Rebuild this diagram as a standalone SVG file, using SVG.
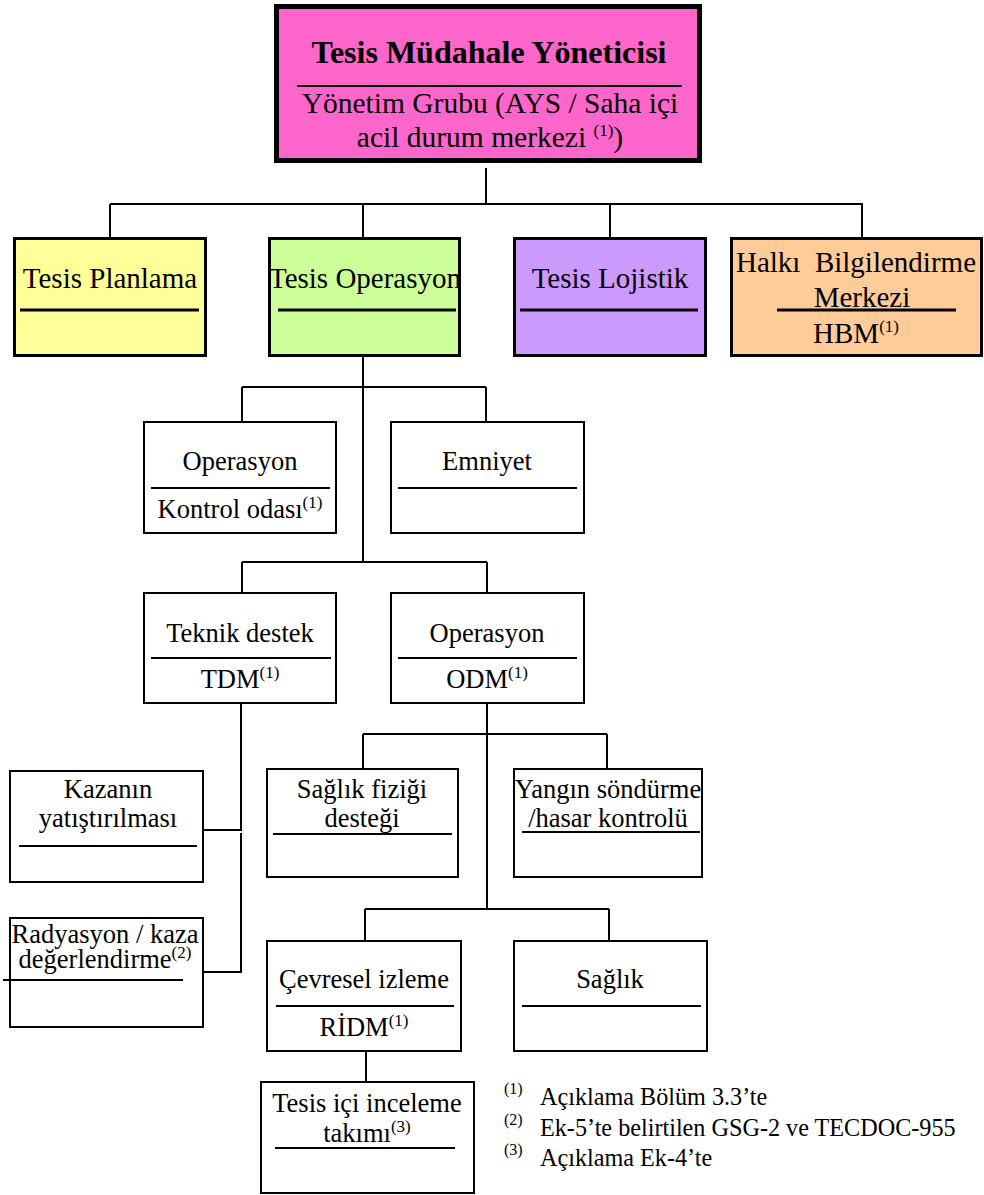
<svg xmlns="http://www.w3.org/2000/svg" width="984" height="1195" viewBox="0 0 984 1195">
  <style>
    text { font-family: "Liberation Serif", "Times New Roman", serif; fill: #000; text-anchor: middle; }
    .t29 { font-size: 29.5px; }
    .t28 { font-size: 29px; }
    .t26 { font-size: 26.5px; }
    .title { font-size: 32px; font-weight: bold; }
    .sup { font-size: 17px; }
    .box { fill: #fff; stroke: #000; stroke-width: 2; }
    .box3 { stroke: #000; stroke-width: 3; }
    .rule { stroke: #000; stroke-width: 2; }
    .rule3 { stroke: #000; stroke-width: 3; }
    .wire { fill: none; stroke: #000; stroke-width: 2; }
    .note { font-size: 24.2px; text-anchor: start; }
    .noteSup { font-size: 16px; text-anchor: start; }
  </style>

  <!-- connectors -->
  <g id="connectors" class="wire">
    <path d="M486 168 V204 M110 204 H863 M110 204 V237 M363 204 V237 M610 204 V237 M862 204 V237"/>
    <path d="M363 357 V563 M242 387 H486 M242 387 V422 M486 387 V422"/>
    <path d="M242 562 H487 M242 562 V593 M487 562 V593"/>
    <path d="M241 703 V830 H203 M241 833 V972 H203"/>
    <path d="M487 703 V909 M363 734 H607 M363 734 V769 M607 734 V769"/>
    <path d="M365 909 H609 M365 909 V941 M609 909 V941"/>
    <path d="M366 1051 V1082"/>
  </g>

  <!-- top manager -->
  <g id="tesis-mudahale-yoneticisi">
    <rect x="276.5" y="6.5" width="423" height="154" fill="#FF66CC" stroke="#000" stroke-width="5"/>
    <text class="title" x="489" y="63">Tesis Müdahale Yöneticisi</text>
    <line class="rule" x1="297" y1="86" x2="682" y2="86"/>
    <text class="t29" x="490" y="113">Yönetim Grubu (AYS / Saha içi</text>
    <text class="t29" x="490" y="147">acil durum merkezi <tspan class="sup" dy="-11">(1)</tspan><tspan dy="11">)</tspan></text>
  </g>

  <!-- second level -->
  <g id="tesis-planlama">
    <rect class="box3" x="14.5" y="238.5" width="191" height="117" fill="#FFFF99"/>
    <text class="t28" x="110" y="288">Tesis Planlama</text>
    <line class="rule3" x1="20" y1="310" x2="199" y2="310"/>
  </g>
  <g id="tesis-operasyon">
    <rect class="box3" x="269.5" y="238.5" width="190" height="117" fill="#CCFF99"/>
    <text class="t28" x="365" y="288">Tesis Operasyon</text>
    <line class="rule3" x1="278" y1="310" x2="456" y2="310"/>
  </g>
  <g id="tesis-lojistik">
    <rect class="box3" x="514.5" y="238.5" width="191" height="117" fill="#CC99FF"/>
    <text class="t28" x="610" y="288">Tesis Lojistik</text>
    <line class="rule3" x1="520" y1="310" x2="698" y2="310"/>
  </g>
  <g id="halki-bilgilendirme-merkezi">
    <rect class="box3" x="731.5" y="238.5" width="250" height="117" fill="#FFCC99"/>
    <text class="t28" x="856" y="272" style="white-space:pre">Halkı  Bilgilendirme</text>
    <text class="t28" x="862" y="307">Merkezi</text>
    <line class="rule3" x1="777" y1="310" x2="956" y2="310"/>
    <text class="t28" x="856" y="343">HBM<tspan class="sup" dy="-11">(1)</tspan></text>
  </g>

  <!-- operations branch -->
  <g id="operasyon-kontrol-odasi">
    <rect class="box" x="144" y="422" width="192" height="111"/>
    <text class="t26" x="240" y="470">Operasyon</text>
    <line class="rule" x1="151" y1="488" x2="330" y2="488"/>
    <text class="t26" x="240" y="518">Kontrol odası<tspan class="sup" dy="-10">(1)</tspan></text>
  </g>
  <g id="emniyet">
    <rect class="box" x="391" y="422" width="193" height="111"/>
    <text class="t26" x="487" y="470">Emniyet</text>
    <line class="rule" x1="398" y1="488" x2="577" y2="488"/>
  </g>
  <g id="teknik-destek">
    <rect class="box" x="144" y="593" width="192" height="110"/>
    <text class="t26" x="240" y="642">Teknik destek</text>
    <line class="rule" x1="151" y1="658" x2="331" y2="658"/>
    <text class="t26" x="240" y="688">TDM<tspan class="sup" dy="-10">(1)</tspan></text>
  </g>
  <g id="operasyon-odm">
    <rect class="box" x="391" y="593" width="193" height="110"/>
    <text class="t26" x="487" y="642">Operasyon</text>
    <line class="rule" x1="398" y1="658" x2="577" y2="658"/>
    <text class="t26" x="487" y="688">ODM<tspan class="sup" dy="-10">(1)</tspan></text>
  </g>

  <!-- technical support teams -->
  <g id="kazanin-yatistirilmasi">
    <rect class="box" x="10" y="771" width="193" height="111"/>
    <text class="t26" x="108" y="798">Kazanın</text>
    <text class="t26" x="108" y="827">yatıştırılması</text>
    <line class="rule" x1="19" y1="846" x2="197" y2="846"/>
  </g>
  <g id="radyasyon-kaza-degerlendirme">
    <rect class="box" x="10" y="918" width="193" height="109"/>
    <text class="t26" x="105" y="943">Radyasyon / kaza</text>
    <text class="t26" x="105" y="968">değerlendirme<tspan class="sup" dy="-10">(2)</tspan></text>
    <line class="rule" x1="3" y1="980" x2="183" y2="980"/>
  </g>

  <!-- operations support teams -->
  <g id="saglik-fizigi-destegi">
    <rect class="box" x="267" y="769" width="191" height="108"/>
    <text class="t26" x="362" y="798">Sağlık fiziği</text>
    <text class="t26" x="362" y="827">desteği</text>
    <line class="rule" x1="273" y1="834" x2="452" y2="834"/>
  </g>
  <g id="yangin-sondurme">
    <rect class="box" x="514" y="769" width="188" height="108"/>
    <text class="t26" x="608" y="798">Yangın söndürme</text>
    <text class="t26" x="608" y="827">/hasar kontrolü</text>
    <line class="rule" x1="522" y1="832" x2="700" y2="832"/>
  </g>
  <g id="cevresel-izleme">
    <rect class="box" x="267" y="941" width="194" height="110"/>
    <text class="t26" x="364" y="988">Çevresel izleme</text>
    <line class="rule" x1="276" y1="1006" x2="454" y2="1006"/>
    <text class="t26" x="364" y="1036">RİDM<tspan class="sup" dy="-10">(1)</tspan></text>
  </g>
  <g id="saglik">
    <rect class="box" x="514" y="941" width="193" height="110"/>
    <text class="t26" x="610" y="988">Sağlık</text>
    <line class="rule" x1="522" y1="1006" x2="701" y2="1006"/>
  </g>
  <g id="tesis-ici-inceleme-takimi">
    <rect class="box" x="261" y="1082" width="213" height="111"/>
    <text class="t26" x="367" y="1112">Tesis içi inceleme</text>
    <text class="t26" x="367" y="1142">takımı<tspan class="sup" dy="-10">(3)</tspan></text>
    <line class="rule" x1="275" y1="1148" x2="455" y2="1148"/>
  </g>

  <!-- footnotes -->
  <g id="footnotes">
    <text class="noteSup" x="504" y="1094">(1)</text>
    <text class="note" x="540" y="1105">Açıklama Bölüm 3.3’te</text>
    <text class="noteSup" x="504" y="1125">(2)</text>
    <text class="note" x="540" y="1136">Ek-5’te belirtilen GSG-2 ve TECDOC-955</text>
    <text class="noteSup" x="504" y="1155">(3)</text>
    <text class="note" x="540" y="1166">Açıklama Ek-4’te</text>
  </g>
</svg>
